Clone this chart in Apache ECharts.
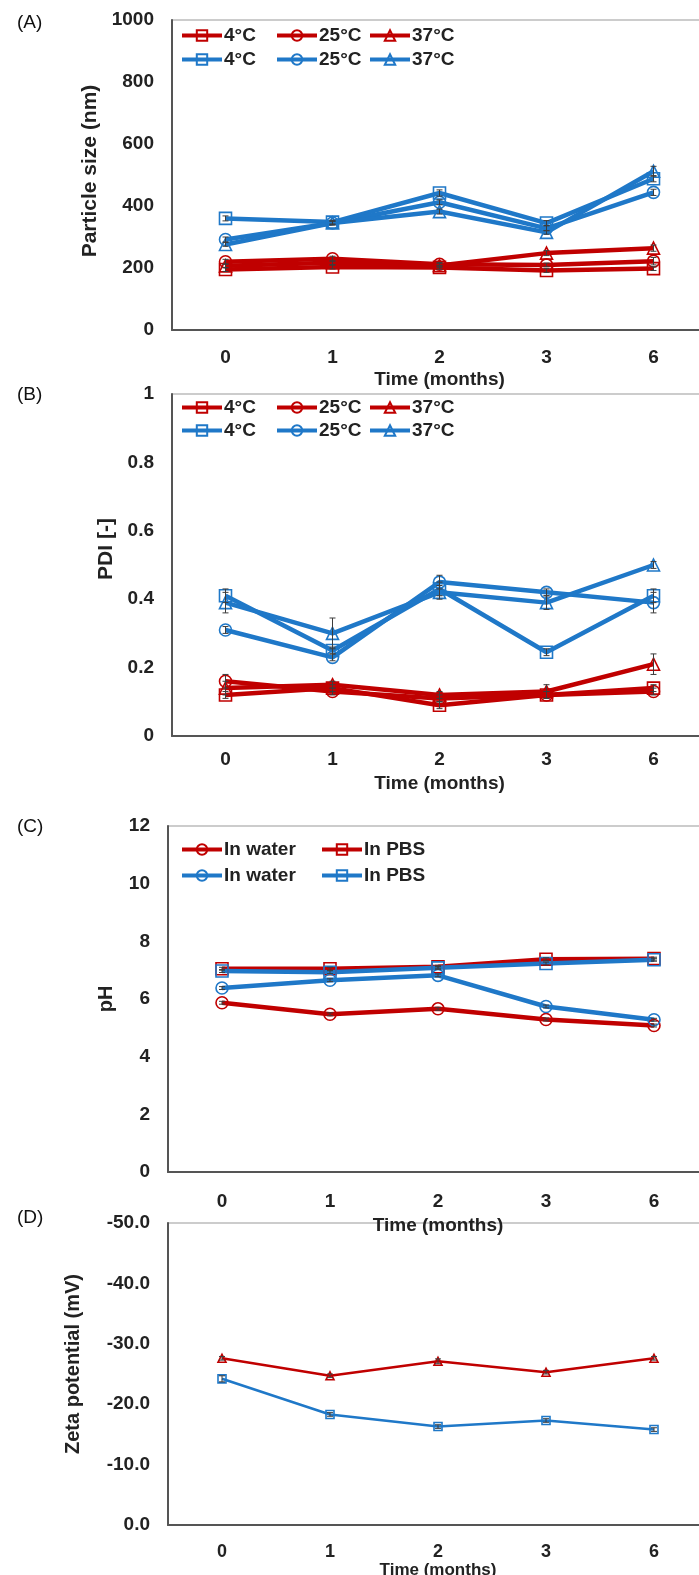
<!DOCTYPE html>
<html>
<head>
<meta charset="utf-8">
<script src="https://cdn.jsdelivr.net/npm/echarts@6/dist/echarts.min.js"></script>
<style>
  html, body { margin: 0; padding: 0; background: #fff; }
  #chart { width: 699px; height: 1575px; }
</style>
</head>
<body>
<div id="chart"></div>
<script>
// Storage time points (months)
const months = ['0', '1', '2', '3', '6'];

// (A) Particle size (nm)
const sizeRed4 = [195, 203, 202, 192, 198];
const sizeRed25 = [220, 230, 212, 210, 222];
const sizeRed37 = [207, 217, 208, 248, 264];
const sizeBlue4 = [360, 348, 442, 345, 488];
const sizeBlue25 = [292, 345, 412, 328, 444];
const sizeBlue37 = [276, 345, 382, 315, 512];
const sizeErrRed4 = [6, 6, 6, 6, 6];
const sizeErrRed25 = [8, 8, 6, 6, 12];
const sizeErrRed37 = [6, 6, 6, 8, 10];
const sizeErrBlue4 = [8, 6, 10, 8, 10];
const sizeErrBlue25 = [8, 6, 8, 8, 10];
const sizeErrBlue37 = [6, 6, 8, 6, 16];

// (B) Polydispersity index
const pdiRed4 = [0.12, 0.14, 0.09, 0.12, 0.14];
const pdiRed25 = [0.16, 0.13, 0.11, 0.12, 0.13];
const pdiRed37 = [0.14, 0.15, 0.12, 0.13, 0.21];
const pdiBlue4 = [0.41, 0.25, 0.43, 0.245, 0.41];
const pdiBlue25 = [0.31, 0.23, 0.45, 0.42, 0.39];
const pdiBlue37 = [0.39, 0.30, 0.42, 0.39, 0.50];
const pdiErrRed4 = [0.01, 0.01, 0.01, 0.01, 0.01];
const pdiErrRed25 = [0.02, 0.01, 0.01, 0.01, 0.01];
const pdiErrRed37 = [0.02, 0.01, 0.01, 0.02, 0.03];
const pdiErrBlue4 = [0.02, 0.01, 0.02, 0.01, 0.02];
const pdiErrBlue25 = [0.01, 0.01, 0.02, 0.01, 0.03];
const pdiErrBlue37 = [0.03, 0.045, 0.02, 0.02, 0.01];

// (C) pH
const phRedWater = [5.87, 5.47, 5.66, 5.29, 5.08];
const phRedPBS = [7.05, 7.05, 7.12, 7.38, 7.40];
const phBlueWater = [6.38, 6.65, 6.82, 5.74, 5.28];
const phBluePBS = [6.97, 6.93, 7.08, 7.23, 7.36];
const phErr = [0.05, 0.05, 0.05, 0.05, 0.05];

// (D) Zeta potential (mV)
const zetaRed = [-27.6, -24.7, -27.1, -25.3, -27.6];
const zetaBlue = [-24.2, -18.3, -16.3, -17.3, -15.8];
const zetaErrRed = [0.3, 0.3, 0.4, 0.3, 0.3];
const zetaErrBlue = [0.5, 0.3, 0.3, 0.3, 0.3];

// Axis ticks
const sizeTicks = { min: 0, max: 1000, interval: 200 };
const pdiTicks = { min: 0, max: 1, interval: 0.2 };
const phTicks = { min: 0, max: 12, interval: 2 };
const zetaTicks = { min: -50, max: 0, interval: 10 };

const RED = '#C00000';
const BLUE = '#1F78C8';
const FONT = '"Liberation Sans", Arial, sans-serif';

const chart = echarts.init(document.getElementById('chart'), null, { renderer: 'canvas' });

// Plot boxes run past the right edge of the page, so the right border stays hidden
const grids = [
  { left: 172, top: 20, width: 535, height: 310 },
  { left: 172, top: 394, width: 535, height: 342 },
  { left: 168, top: 826, width: 540, height: 346 },
  { left: 168, top: 1223, width: 540, height: 302 }
].map(g => Object.assign({
  show: true, borderColor: '#9a9a9a', borderWidth: 1.2,
  containLabel: false, outerBoundsMode: 'none'
}, g));

function xAxisFor(i, margin, gap, fs, nfs) {
  return {
    type: 'category', gridIndex: i, data: months, boundaryGap: true,
    axisLine: { show: true, lineStyle: { color: '#555', width: 2 } },
    axisTick: { show: false },
    axisLabel: { margin: margin, color: '#222', fontFamily: FONT, fontWeight: 'bold', fontSize: fs },
    name: 'Time (months)', nameLocation: 'middle', nameGap: gap,
    nameTextStyle: { color: '#222', fontFamily: FONT, fontWeight: 'bold', fontSize: nfs || fs }
  };
}

// shift moves the rotated axis name upward along the axis (px)
function yAxisFor(i, ticks, name, gap, fs, nfs, shift, fmt, inverse) {
  return Object.assign({
    type: 'value', gridIndex: i, inverse: !!inverse,
    axisLine: { show: true, lineStyle: { color: '#555', width: 2 } },
    axisTick: { show: false },
    splitLine: { show: false },
    axisLabel: { margin: 18, color: '#222', fontFamily: FONT, fontWeight: 'bold', fontSize: fs, formatter: fmt },
    name: name, nameLocation: 'middle', nameGap: gap, nameRotate: 90,
    nameTextStyle: { color: '#222', fontFamily: FONT, fontWeight: 'bold', fontSize: nfs, padding: [0, 0, 0, 2 * shift] }
  }, ticks);
}

function lineSeries(name, gi, data, color, symbol, size, width) {
  return {
    name: name, type: 'line', xAxisIndex: gi, yAxisIndex: gi, data: data,
    symbol: symbol, symbolSize: size, showSymbol: true,
    lineStyle: { color: color, width: width },
    itemStyle: { color: 'rgba(255,255,255,0)', borderColor: color, borderWidth: 1.6 },
    emphasis: { disabled: true }, z: 3
  };
}

function renderErr(params, api) {
  const x = api.value(0), y = api.value(1), e = api.value(2);
  const hi = api.coord([x, y + e]);
  const lo = api.coord([x, y - e]);
  const w = 3;
  const st = { stroke: '#3c3c3c', lineWidth: 1 };
  return {
    type: 'group',
    children: [
      { type: 'line', shape: { x1: hi[0], y1: hi[1], x2: lo[0], y2: lo[1] }, style: st },
      { type: 'line', shape: { x1: hi[0] - w, y1: hi[1], x2: hi[0] + w, y2: hi[1] }, style: st },
      { type: 'line', shape: { x1: lo[0] - w, y1: lo[1], x2: lo[0] + w, y2: lo[1] }, style: st }
    ]
  };
}

function errSeries(gi, vals, errs) {
  return {
    type: 'custom', xAxisIndex: gi, yAxisIndex: gi, renderItem: renderErr,
    data: vals.map((v, k) => [k, v, errs[k]]),
    encode: { x: 0, y: 1 }, z: 4, silent: true
  };
}

// One legend block per entry so every entry sits at its own column
function legendItem(name, left, top) {
  return {
    data: [name], left: left, top: top, orient: 'horizontal',
    itemWidth: 40, itemHeight: 13, itemGap: 0, padding: 0, selectedMode: false,
    lineStyle: { width: 4 },
    formatter: n => n.split('|')[1],
    textStyle: { fontFamily: FONT, fontWeight: 'bold', color: '#222', fontSize: 19, padding: [0, 0, 0, -3] }
  };
}
function legendGrid(rows, cols, tops) {
  const out = [];
  rows.forEach((row, r) => row.forEach((n, c) => out.push(legendItem(n, cols[c], tops[r]))));
  return out;
}

const LW = 4.5, MS = 12;
const series = [
  // (A)
  lineSeries('a1|4°C', 0, sizeRed4, RED, 'rect', MS, LW),
  lineSeries('a1|25°C', 0, sizeRed25, RED, 'circle', MS, LW),
  lineSeries('a1|37°C', 0, sizeRed37, RED, 'triangle', MS, LW),
  lineSeries('a2|4°C', 0, sizeBlue4, BLUE, 'rect', MS, LW),
  lineSeries('a2|25°C', 0, sizeBlue25, BLUE, 'circle', MS, LW),
  lineSeries('a2|37°C', 0, sizeBlue37, BLUE, 'triangle', MS, LW),
  errSeries(0, sizeRed4, sizeErrRed4), errSeries(0, sizeRed25, sizeErrRed25), errSeries(0, sizeRed37, sizeErrRed37),
  errSeries(0, sizeBlue4, sizeErrBlue4), errSeries(0, sizeBlue25, sizeErrBlue25), errSeries(0, sizeBlue37, sizeErrBlue37),
  // (B)
  lineSeries('b1|4°C', 1, pdiRed4, RED, 'rect', MS, LW),
  lineSeries('b1|25°C', 1, pdiRed25, RED, 'circle', MS, LW),
  lineSeries('b1|37°C', 1, pdiRed37, RED, 'triangle', MS, LW),
  lineSeries('b2|4°C', 1, pdiBlue4, BLUE, 'rect', MS, LW),
  lineSeries('b2|25°C', 1, pdiBlue25, BLUE, 'circle', MS, LW),
  lineSeries('b2|37°C', 1, pdiBlue37, BLUE, 'triangle', MS, LW),
  errSeries(1, pdiRed4, pdiErrRed4), errSeries(1, pdiRed25, pdiErrRed25), errSeries(1, pdiRed37, pdiErrRed37),
  errSeries(1, pdiBlue4, pdiErrBlue4), errSeries(1, pdiBlue25, pdiErrBlue25), errSeries(1, pdiBlue37, pdiErrBlue37),
  // (C)
  lineSeries('c1|In water', 2, phRedWater, RED, 'circle', MS, LW),
  lineSeries('c1|In PBS', 2, phRedPBS, RED, 'rect', MS, LW),
  lineSeries('c2|In water', 2, phBlueWater, BLUE, 'circle', MS, LW),
  lineSeries('c2|In PBS', 2, phBluePBS, BLUE, 'rect', MS, LW),
  errSeries(2, phRedWater, phErr), errSeries(2, phRedPBS, phErr),
  errSeries(2, phBlueWater, phErr), errSeries(2, phBluePBS, phErr),
  // (D)
  lineSeries('d1|zeta', 3, zetaRed, RED, 'triangle', 8, 2.6),
  lineSeries('d2|zeta', 3, zetaBlue, BLUE, 'rect', 8, 2.6),
  errSeries(3, zetaRed, zetaErrRed), errSeries(3, zetaBlue, zetaErrBlue)
];

const panelTitle = (txt, top) => ({
  text: txt, left: 12, top: top,
  textStyle: { fontFamily: FONT, fontWeight: 'normal', fontSize: 19, color: '#111' }
});

const tempCols = [180, 275, 368];
const mediaCols = [180, 320];

const option = {
  animation: false,
  backgroundColor: '#fff',
  title: [panelTitle('(A)', 8), panelTitle('(B)', 380), panelTitle('(C)', 812), panelTitle('(D)', 1203)],
  grid: grids,
  xAxis: [xAxisFor(0, 18, 40, 19), xAxisFor(1, 14, 38, 19), xAxisFor(2, 20, 44, 19), xAxisFor(3, 18, 25, 18, 17)],
  yAxis: [
    yAxisFor(0, sizeTicks, 'Particle size (nm)', 70, 19, 21, 4, v => String(v)),
    yAxisFor(1, pdiTicks, 'PDI [-]', 54, 19, 21, 16, v => String(+v.toFixed(1))),
    yAxisFor(2, phTicks, 'pH', 52, 19, 20, 0, v => String(v)),
    yAxisFor(3, zetaTicks, 'Zeta potential (mV)', 85, 19, 20, 10, v => v.toFixed(1), true)
  ],
  legend: [].concat(
    legendGrid([['a1|4°C', 'a1|25°C', 'a1|37°C'], ['a2|4°C', 'a2|25°C', 'a2|37°C']], tempCols, [26, 50]),
    legendGrid([['b1|4°C', 'b1|25°C', 'b1|37°C'], ['b2|4°C', 'b2|25°C', 'b2|37°C']], tempCols, [398, 421]),
    legendGrid([['c1|In water', 'c1|In PBS'], ['c2|In water', 'c2|In PBS']], mediaCols, [840, 866])
  ),
  series: series
};

chart.setOption(option);
</script>
</body>
</html>
